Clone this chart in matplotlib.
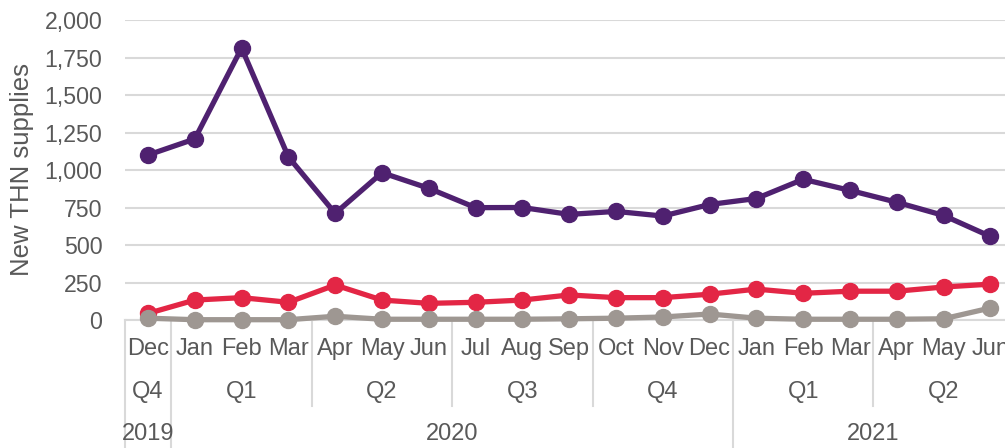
import matplotlib.pyplot as plt
from matplotlib.transforms import blended_transform_factory
import numpy as np

plt.rcParams['font.family'] = ['Liberation Sans', 'DejaVu Sans']

months = ['Dec', 'Jan', 'Feb', 'Mar', 'Apr', 'May', 'Jun', 'Jul', 'Aug', 'Sep',
          'Oct', 'Nov', 'Dec', 'Jan', 'Feb', 'Mar', 'Apr', 'May', 'Jun']
quarters = ['Q4', 'Q1', 'Q2', 'Q3', 'Q4', 'Q1', 'Q2']
quarter_sizes = [1, 3, 3, 3, 3, 3, 3]
years = ['2019', '2020', '2021']
year_sizes = [1, 12, 6]

purple_vals = [1100, 1207, 1813, 1087, 711, 982, 878, 749, 750, 704,
               724, 693, 770, 810, 938, 864, 785, 697, 557]
red_vals = [44, 133, 149, 118, 233, 133, 111, 118, 133, 167,
            149, 149, 172, 206, 178, 192, 192, 220, 239]
grey_vals = [12, 2, 2, 2, 25, 5, 5, 5, 5, 8,
             12, 20, 40, 12, 5, 5, 5, 8, 80]

TXT = '#595959'
GRID = '#d9d9d9'

W, H = 1005, 448
fig = plt.figure(figsize=(W / 100, H / 100), dpi=100)
step = 46.8
x_left = 124.6
ax = fig.add_axes([x_left / W, 128 / H, (W - x_left) / W, 300 / H])

x = np.arange(len(months))
ax.set_xlim(-0.5, -0.5 + (W - x_left) / step)
ax.set_ylim(0, 2000)

ax.plot(x, purple_vals, color='#4f2170', lw=3.8, marker='o', ms=11.5, clip_on=False, zorder=3)
ax.plot(x, red_vals, color='#e32645', lw=3.8, marker='o', ms=11.5, clip_on=False, zorder=4)
ax.plot(x, grey_vals, color='#9e9792', lw=3.8, marker='o', ms=11.5, clip_on=False, zorder=5)

ax.set_yticks(np.arange(0, 2001, 250))
ax.set_yticklabels([f'{v:,}' for v in range(0, 2001, 250)])
ax.grid(axis='y', color=GRID, lw=1.5)
ax.set_axisbelow(True)
for s in ['top', 'right', 'left']:
    ax.spines[s].set_visible(False)
ax.spines['bottom'].set_color(GRID)
ax.spines['bottom'].set_linewidth(1.5)
ax.tick_params(axis='y', length=0, labelsize=16.7, labelcolor=TXT, pad=16)
ax.set_xticks([])

tr = blended_transform_factory(ax.transData, fig.transFigure)


def fy(py):
    return 1 - py / H


fig.text(22 / W, fy(170), 'New THN supplies', rotation=90, ha='center', va='center',
         fontsize=18.5, color=TXT)

for i, m in enumerate(months):
    ax.text(i, fy(349), m, transform=tr, ha='center', va='center',
            fontsize=17, color=TXT)

start = 0
for q, n in zip(quarters, quarter_sizes):
    ax.text(start + (n - 1) / 2, fy(392), q, transform=tr, ha='center', va='center',
            fontsize=17, color=TXT)
    start += n

start = 0
for yr, n in zip(years, year_sizes):
    ax.text(start + (n - 1) / 2, fy(434), yr, transform=tr, ha='center', va='center',
            fontsize=17, color=TXT)
    start += n

# group separator lines
year_bounds = [-0.5, 0.5, 12.5]
quarter_bounds = [3.5, 6.5, 9.5, 15.5]
for b in year_bounds:
    ax.plot([b, b], [fy(320), 0], transform=tr, color=GRID, lw=1.5, clip_on=False)
for b in quarter_bounds:
    ax.plot([b, b], [fy(320), fy(406)], transform=tr, color=GRID, lw=1.5, clip_on=False)

fig.savefig('out.png', dpi=100)
